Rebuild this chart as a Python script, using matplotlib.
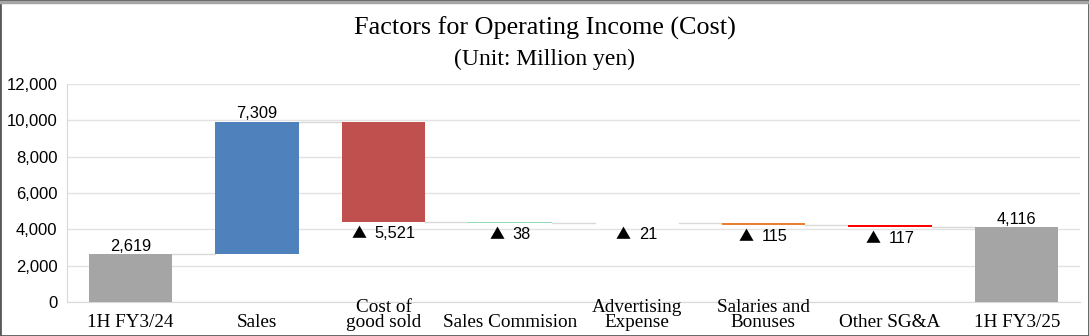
import numpy as np
import matplotlib.pyplot as plt
from matplotlib.patches import Rectangle
from matplotlib.lines import Line2D
from matplotlib.offsetbox import TextArea, HPacker, AnnotationBbox

plt.rcParams['font.family'] = ['Liberation Sans', 'DejaVu Sans']

# waterfall data (million yen)
categories = ['1H FY3/24', 'Sales', 'Cost of\ngood sold', 'Sales Commision',
              'Advertising\nExpense', 'Salaries and\nBonuses', 'Other SG&A', '1H FY3/25']
start_value = 2619
changes = [7309, -5521, -38, -21, -115, -117]
end_value = 4116
bar_colors = ['#A5A5A5', '#4F81BD', '#C0504D', '#92DDB8', '#FFFFFF',
              '#ED7D31', '#FF0000', '#A5A5A5']

# bottoms / heights / running level after each bar
bottoms = [0]
heights = [start_value]
levels = [start_value]
running = start_value
for c in changes:
    if c >= 0:
        bottoms.append(running)
        heights.append(c)
    else:
        bottoms.append(running + c)
        heights.append(-c)
    running += c
    levels.append(running)
bottoms.append(0)
heights.append(end_value)
levels.append(end_value)

fig = plt.figure(figsize=(10.89, 3.36), dpi=100)
ax = fig.add_axes([67 / 1089, 34 / 336, (1080 - 67) / 1089, 218 / 336])

x = np.arange(len(categories))
width = 0.66
ax.bar(x, heights, width, bottom=bottoms, color=bar_colors, zorder=3)

# connector lines between bars
for i in range(len(categories) - 1):
    ax.plot([x[i] + width / 2, x[i + 1] - width / 2], [levels[i], levels[i]],
            color='#D9D9D9', lw=1, zorder=2)

# value labels
LABEL_SIZE = 11.8
for i in [0, 1, len(categories) - 1]:
    ax.annotate(f'{heights[i]:,}', (x[i], bottoms[i] + heights[i]),
                xytext=(0, 0.5), textcoords='offset points',
                ha='center', va='bottom', fontsize=LABEL_SIZE)

# decreases: full-width triangle + amount, centred under the bar
for i, c in enumerate(changes, start=1):
    if c < 0:
        tri = TextArea('▲', textprops=dict(family='Noto Sans CJK JP', fontsize=LABEL_SIZE - 1))
        num = TextArea(f'{-c:,}', textprops=dict(family='Liberation Sans', fontsize=LABEL_SIZE))
        box = HPacker(children=[tri, num], align='baseline', pad=0, sep=6)
        ab = AnnotationBbox(box, (x[i], bottoms[i]), xybox=(0, -3),
                            xycoords='data', boxcoords='offset points',
                            box_alignment=(0.5, 1), frameon=False, pad=0)
        ax.add_artist(ab)

ax.set_xlim(-0.5, len(categories) - 0.5)
ax.set_ylim(0, 12000)
ax.set_yticks(range(0, 12001, 2000))
ax.set_yticklabels([f'{v:,}' for v in range(0, 12001, 2000)], fontsize=12)
ax.tick_params(axis='y', length=0, pad=7)
ax.set_xticks([])
ax.grid(axis='y', color='#E3E3E3', lw=1, zorder=0)
for s in ['top', 'right']:
    ax.spines[s].set_visible(False)
for s in ['left', 'bottom']:
    ax.spines[s].set_color('#D9D9D9')

# category names under the axis
for xi, name in zip(x, categories):
    ax.text(xi, -0.135, name, transform=ax.get_xaxis_transform(),
            ha='center', va='bottom', fontsize=13.8, family='Liberation Serif',
            linespacing=0.88)

fig.text(0.5, 0.915, 'Factors for Operating Income (Cost)', ha='center', va='center',
         fontsize=18.8, family='Liberation Serif')
fig.text(0.5, 0.822, '(Unit: Million yen)', ha='center', va='center',
         fontsize=17, family='Liberation Serif')

# outer frame
fig.patches.append(Rectangle((0, 0), 1, 1, transform=fig.transFigure, fill=False,
                             edgecolor='#595959', lw=2))
fig.lines.append(Line2D([0, 1], [0.995, 0.995], transform=fig.transFigure,
                        color='#A6A6A6', lw=2.5))

fig.savefig('out.png', dpi=100)
